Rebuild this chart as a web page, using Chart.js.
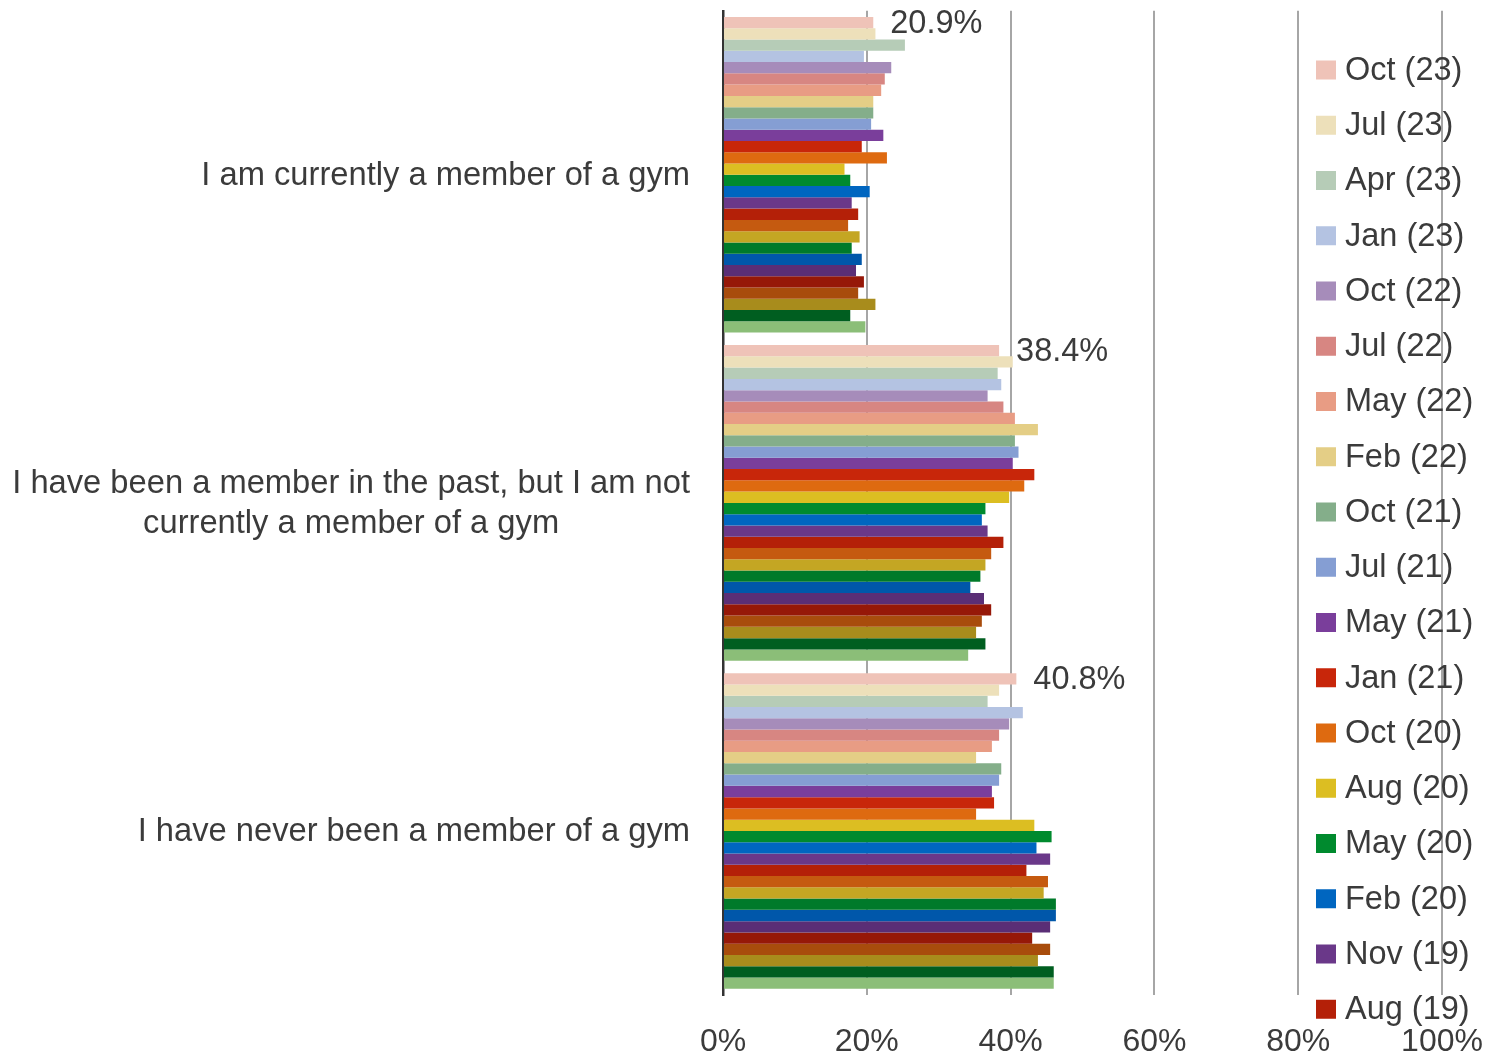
<!DOCTYPE html>
<html>
<head>
<meta charset="utf-8">
<script src="https://cdn.jsdelivr.net/npm/chart.js@4.4.0/dist/chart.umd.min.js"></script>
<style>
  html, body { margin: 0; padding: 0; background: #ffffff; }
  #wrap { width: 1502px; height: 1057px; position: relative; }
</style>
</head>
<body>
<div id="wrap"><canvas id="c" width="1502" height="1057"></canvas></div>
<script>
// ---------- DATA ----------
const categoryLines = [
  ['I am currently a member of a gym'],
  ['I have been a member in the past, but I am not', 'currently a member of a gym'],
  ['I have never been a member of a gym']
];
const categories = categoryLines.map(l => l.join(' '));

const seriesLabels = [
  'Oct (23)', 'Jul (23)', 'Apr (23)', 'Jan (23)', 'Oct (22)', 'Jul (22)', 'May (22)',
  'Feb (22)', 'Oct (21)', 'Jul (21)', 'May (21)', 'Jan (21)', 'Oct (20)', 'Aug (20)',
  'May (20)', 'Feb (20)', 'Nov (19)', 'Aug (19)', 'May (19)', 'Feb (19)', 'Nov (18)',
  'Aug (18)', 'May (18)', 'Feb (18)', 'Nov (17)', 'Aug (17)', 'May (17)', 'Feb (17)'
];

const seriesColors = [
  '#EFC3B8', '#EDE0BA', '#B6CCB7', '#B4C3E2', '#A68CBA', '#D78682', '#E89C84',
  '#E4CE86', '#84AE8A', '#859ED3', '#7A3E9B', '#C8260A', '#DE6A10', '#DCBE22',
  '#008A2E', '#0066C0', '#6A3889', '#B42008', '#C55A10', '#C4A623', '#007A2A',
  '#0057AA', '#5A2E76', '#961808', '#A84C0C', '#A88C1C', '#005E20', '#8BBE78'
];

// values (%) per series, one array per category
const currentMember = [
  20.9, 21.2, 25.3, 19.6, 23.4, 22.5, 22.0, 20.9, 20.9, 20.6, 22.3, 19.3, 22.8, 16.9,
  17.7, 20.4, 17.9, 18.8, 17.4, 19.0, 17.9, 19.3, 18.5, 19.6, 18.8, 21.2, 17.7, 19.8
];
const pastMember = [
  38.4, 40.3, 38.2, 38.7, 36.8, 39.0, 40.6, 43.8, 40.6, 41.1, 40.3, 43.3, 41.9, 39.8,
  36.5, 36.0, 36.8, 39.0, 37.3, 36.5, 35.8, 34.4, 36.3, 37.3, 36.0, 35.2, 36.5, 34.1
];
const neverMember = [
  40.8, 38.4, 36.8, 41.7, 39.8, 38.4, 37.4, 35.2, 38.7, 38.4, 37.4, 37.7, 35.2, 43.3,
  45.7, 43.6, 45.5, 42.2, 45.2, 44.6, 46.3, 46.3, 45.5, 43.0, 45.5, 43.8, 46.0, 46.0
];

const xTickValues = [0, 20, 40, 60, 80, 100];
const legendShown = 18;           // entries visible in the legend
const labelledSeries = 0;         // series whose values are printed

// ---------- STYLE ----------
const TEXT = '#3b3b3b';
const FONT = '"Liberation Sans", Arial, sans-serif';

const datasets = seriesLabels.map((label, i) => ({
  label: label,
  data: [currentMember[i], pastMember[i], neverMember[i]],
  backgroundColor: seriesColors[i],
  borderWidth: 0,
  categoryPercentage: 0.962,
  barPercentage: 1.0
}));

// category labels: block right-aligned to the axis, lines centred within block
const categoryLabelPlugin = {
  id: 'categoryLabels',
  afterDraw(chart) {
    const ctx = chart.ctx;
    const yScale = chart.scales.y;
    ctx.save();
    ctx.font = '32.7px ' + FONT;
    ctx.fillStyle = TEXT;
    ctx.textAlign = 'center';
    ctx.textBaseline = 'middle';
    const lh = 40;
    categoryLines.forEach((lines, i) => {
      const w = Math.max(...lines.map(l => ctx.measureText(l).width));
      const cx = chart.chartArea.left - 33 - w / 2;
      const yc = yScale.getPixelForValue(i);
      lines.forEach((l, j) => {
        ctx.fillText(l, cx, yc + 1 + (j - (lines.length - 1) / 2) * lh);
      });
    });
    ctx.restore();
  }
};

// value labels for the latest wave
const valueLabelPlugin = {
  id: 'valueLabels',
  afterDatasetsDraw(chart) {
    const ctx = chart.ctx;
    const meta = chart.getDatasetMeta(labelledSeries);
    ctx.save();
    ctx.font = '32.5px ' + FONT;
    ctx.fillStyle = TEXT;
    ctx.textAlign = 'left';
    ctx.textBaseline = 'middle';
    meta.data.forEach((el, i) => {
      const v = chart.data.datasets[labelledSeries].data[i];
      ctx.fillText(v.toFixed(1) + '%', el.x + 17, el.y + 1);
    });
    ctx.restore();
  }
};

// legend drawn over the right side of the plot, as in the source
const sideLegendPlugin = {
  id: 'sideLegend',
  afterDraw(chart) {
    const ctx = chart.ctx;
    ctx.save();
    ctx.font = '32.5px ' + FONT;
    ctx.textAlign = 'left';
    ctx.textBaseline = 'middle';
    const x0 = 1316, y0 = 70, step = 55.25;
    for (let i = 0; i < legendShown && i < chart.data.datasets.length; i++) {
      const ds = chart.data.datasets[i];
      const yc = y0 + i * step;
      ctx.fillStyle = ds.backgroundColor;
      ctx.fillRect(x0, yc - 9.5, 20, 19);
      ctx.fillStyle = TEXT;
      ctx.fillText(ds.label, x0 + 29, yc + 1);
    }
    ctx.restore();
  }
};

new Chart(document.getElementById('c'), {
  type: 'bar',
  data: { labels: categories, datasets: datasets },
  options: {
    indexAxis: 'y',
    responsive: false,
    animation: false,
    layout: { padding: { top: 10.75, right: 60, bottom: 0, left: 0 } },
    plugins: {
      legend: { display: false },
      tooltip: { enabled: false },
      title: { display: false }
    },
    scales: {
      x: {
        type: 'linear',
        min: 0,
        max: 100,
        afterBuildTicks: (scale) => { scale.ticks = xTickValues.map(v => ({ value: v })); },
        afterFit: (scale) => {
          scale.height = 62;
          scale.paddingLeft = 0;
          scale.paddingRight = 0;
        },
        grid: { color: '#A6A6A6', lineWidth: 2, drawTicks: false },
        border: { display: false },
        ticks: {
          padding: 28,
          color: TEXT,
          font: { family: FONT, size: 32 },
          callback: (v) => v + '%'
        }
      },
      y: {
        type: 'category',
        afterFit: (scale) => { scale.width = 723; },
        grid: { display: false, drawTicks: false },
        border: { display: true, color: '#333333', width: 2.5 },
        ticks: { display: false }
      }
    }
  },
  plugins: [categoryLabelPlugin, valueLabelPlugin, sideLegendPlugin]
});
</script>
</body>
</html>
